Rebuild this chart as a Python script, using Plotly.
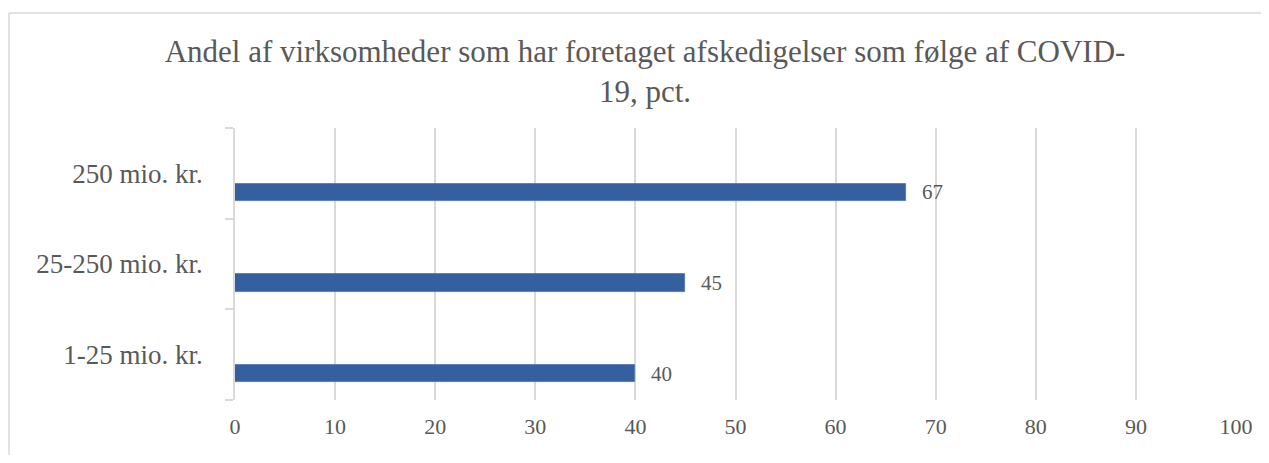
import plotly.graph_objects as go

categories = ["1-25 mio. kr.", "25-250 mio. kr.", "250 mio. kr."]
values = [40, 45, 67]
x_ticks = [0, 10, 20, 30, 40, 50, 60, 70, 80, 90, 100]
title_text = "Andel af virksomheder som har foretaget afskedigelser som følge af COVID-<br>19, pct."

# page has an 8px body margin; figure coords = page coords - 8
W, H = 1253, 447
L, R, T, B = 227, 25, 120, 55
pw = W - L - R
ph = H - T - B

FONT = "Liberation Serif"
GREY = "#595959"
GRID = "#D9D9D9"
BAR = "#365F9F"

fig = go.Figure()
fig.add_trace(go.Bar(
    x=values, y=categories, orientation="h",
    marker=dict(color=BAR, line=dict(color="#4A72B3", width=0.8)),
    width=0.19, offset=-0.305,
    hoverinfo="x+y",
))

for c, v in zip(categories, values):
    fig.add_annotation(x=v, y=c, text=str(v), showarrow=False,
                       xanchor="left", yanchor="middle", xshift=14, yshift=-19,
                       font=dict(family=FONT, size=21, color=GREY))

# outer chart border (left and top edges visible)
bx0, bx1 = (1 - L) / pw, (W + 20 - L) / pw
by0, by1 = (H - 480 - B) / ph, (H - 5 - B) / ph
fig.add_shape(type="line", xref="paper", yref="paper", x0=bx0, x1=bx0, y0=by0, y1=by1,
              line=dict(color=GRID, width=1.5), layer="below")
fig.add_shape(type="line", xref="paper", yref="paper", x0=bx0, x1=bx1, y0=by1, y1=by1,
              line=dict(color=GRID, width=1.5), layer="below")

fig.update_layout(
    width=W, height=H,
    margin=dict(l=L, r=R, t=T, b=B, pad=0, autoexpand=False),
    paper_bgcolor="white", plot_bgcolor="white",
    showlegend=False,
    title=dict(text=title_text, x=637 / W, xref="container", xanchor="center",
               y=1 - 54 / H, yanchor="middle",
               font=dict(family=FONT, size=31, color=GREY)),
    xaxis=dict(range=[0, 100], tickvals=x_ticks, showgrid=True, gridcolor=GRID, gridwidth=1.5,
               zeroline=False, showline=False, ticks="", automargin=False,
               tickfont=dict(family=FONT, size=22, color=GREY), ticklabelstandoff=11),
    yaxis=dict(type="category", categoryorder="array", categoryarray=categories,
               range=[-0.5, 2.5], showgrid=False, showline=True, linecolor=GRID, linewidth=1.5,
               ticks="outside", tickson="boundaries", ticklen=8, tickcolor=GRID, tickwidth=1.5,
               automargin=False,
               tickfont=dict(family=FONT, size=27, color=GREY), ticklabelstandoff=25),
    bargap=0,
)

fig.write_html("out.html")
